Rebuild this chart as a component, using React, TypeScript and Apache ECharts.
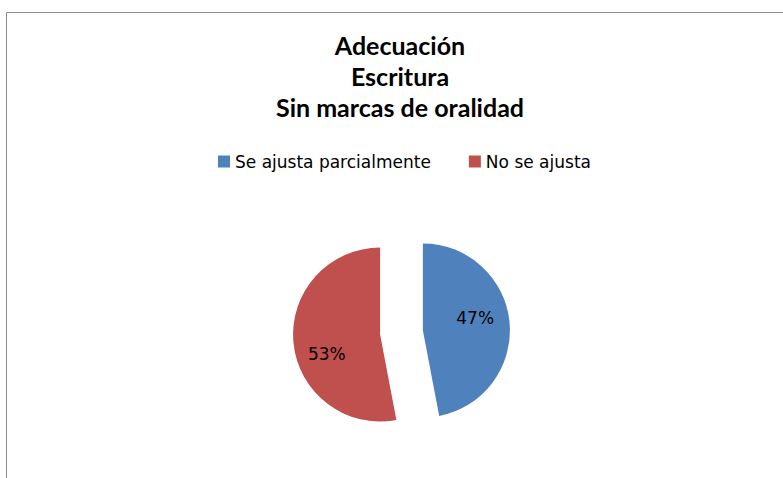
import React, { useEffect, useRef } from "react";
import * as echarts from "echarts";

const titleLines = ["Adecuación", "Escritura", "Sin marcas de oralidad"];
const categories = ["Se ajusta parcialmente", "No se ajusta"];
const values = [47, 53];
const colors = ["#4F81BD", "#C0504D"];
const labelShift = [
  [6, -8],
  [-7, 15],
];

export default function App() {
  const ref = useRef<HTMLDivElement>(null);
  useEffect(() => {
    document.body.style.margin = "0";
    const chart = echarts.init(ref.current!, null, { renderer: "svg" });
    chart.setOption({
      animation: false,
      backgroundColor: "#ffffff",
      title: {
        text: titleLines.join("\n"),
        left: 400,
        textAlign: "center",
        top: 29,
        padding: 0,
        textStyle: {
          fontFamily: "Lato",
          fontWeight: "bold",
          fontSize: 25,
          lineHeight: 31,
          color: "#000000",
        },
      },
      legend: {
        data: categories,
        left: 218,
        top: 153,
        padding: 0,
        itemWidth: 12,
        itemHeight: 12,
        itemGap: 38,
        icon: "rect",
        textStyle: {
          fontFamily: "DejaVu Sans",
          fontSize: 17,
          color: "#000000",
          padding: [0, 0, 0, 0],
        },
      },
      graphic: [
        {
          type: "rect",
          shape: { x: 6.5, y: 12.5, width: 800, height: 500 },
          style: { fill: "none", stroke: "#8c8c8c", lineWidth: 1 },
          silent: true,
        },
      ],
      series: [
        {
          type: "pie",
          center: [401.5, 332.5],
          radius: 87,
          startAngle: 90,
          clockwise: true,
          selectedMode: "multiple",
          selectedOffset: 21.5,
          emphasis: { disabled: true },
          label: {
            show: true,
            position: "inside",
            formatter: "{d}%",
            fontFamily: "DejaVu Sans",
            fontSize: 17,
            color: "#000000",
          },
          labelLine: { show: false },
          labelLayout: (p: any) => ({
            dx: labelShift[p.dataIndex][0],
            dy: labelShift[p.dataIndex][1],
          }),
          data: categories.map((name, i) => ({
            name,
            value: values[i],
            selected: true,
            itemStyle: { color: colors[i] },
          })),
        },
      ],
    });
    return () => chart.dispose();
  }, []);
  return (
    <div
      ref={ref}
      style={{ width: 783, height: 478, position: "absolute", left: 0, top: 0 }}
    />
  );
}
